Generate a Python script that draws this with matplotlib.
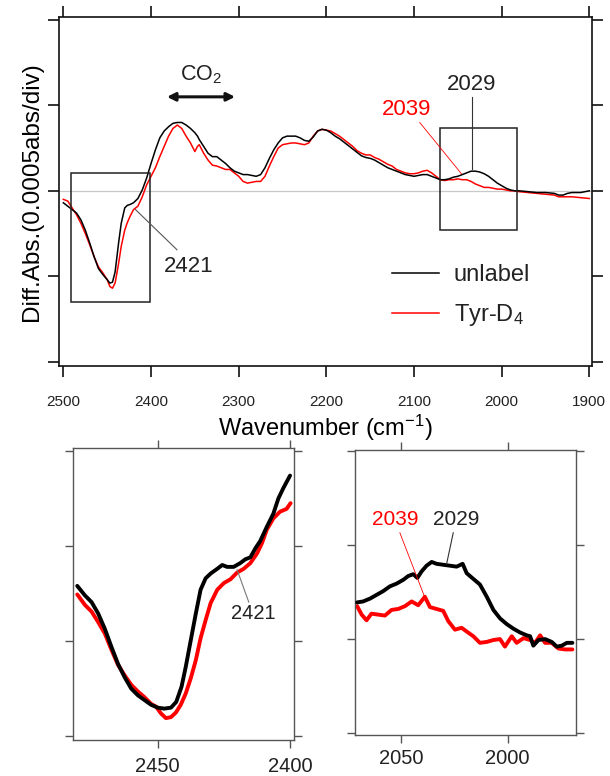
import numpy as np
import matplotlib
matplotlib.use("Agg")
import matplotlib.pyplot as plt

plt.rcParams['font.family'] = ['Liberation Sans', 'DejaVu Sans']
plt.rcParams['mathtext.fontset'] = 'custom'
plt.rcParams['mathtext.rm'] = 'Liberation Sans'
plt.rcParams['mathtext.it'] = 'Liberation Sans:italic'
plt.rcParams['text.color'] = '#222222'

# full spectrum (y in units of 0.0005 abs / div)
top_wn = [2500, 2495, 2490, 2485, 2480, 2475, 2470, 2465, 2460, 2455, 2450, 2447, 2444, 2441,
          2437, 2434, 2430, 2427, 2424, 2420, 2415, 2410, 2405, 2400, 2395, 2390, 2385, 2380,
          2375, 2370, 2365, 2360, 2355, 2350, 2347, 2345, 2340, 2335, 2330, 2325, 2320, 2315,
          2310, 2305, 2300, 2295, 2290, 2285, 2280, 2275, 2270, 2265, 2260, 2255, 2250, 2245,
          2240, 2235, 2230, 2225, 2220, 2215, 2210, 2205, 2200, 2195, 2190, 2185, 2180, 2175,
          2170, 2165, 2160, 2155, 2150, 2145, 2140, 2135, 2130, 2125, 2120, 2115, 2110, 2105,
          2100, 2095, 2090, 2085, 2080, 2075, 2070, 2065, 2060, 2055, 2050, 2045, 2040, 2035,
          2030, 2025, 2020, 2015, 2010, 2005, 2000, 1995, 1990, 1985, 1980, 1970, 1960, 1950,
          1940, 1935, 1930, 1925, 1920, 1910, 1900]
top_unlabel = [-0.14, -0.18, -0.22, -0.26, -0.34, -0.46, -0.61, -0.77, -0.91, -0.98, -1.04, -1.08,
               -1.07, -0.95, -0.61, -0.38, -0.20, -0.17, -0.16, -0.14, -0.09, 0.01, 0.15, 0.32,
               0.48, 0.62, 0.70, 0.75, 0.79, 0.80, 0.80, 0.77, 0.73, 0.68, 0.64, 0.60, 0.52, 0.44,
               0.40, 0.40, 0.36, 0.32, 0.27, 0.23, 0.21, 0.19, 0.19, 0.18, 0.17, 0.19, 0.27, 0.38,
               0.48, 0.56, 0.62, 0.64, 0.64, 0.64, 0.62, 0.59, 0.58, 0.63, 0.70, 0.72, 0.71, 0.68,
               0.64, 0.61, 0.57, 0.53, 0.49, 0.45, 0.41, 0.39, 0.38, 0.36, 0.33, 0.30, 0.27, 0.25,
               0.23, 0.21, 0.19, 0.18, 0.17, 0.18, 0.19, 0.19, 0.17, 0.15, 0.13, 0.13, 0.14, 0.16,
               0.17, 0.19, 0.21, 0.23, 0.23, 0.22, 0.20, 0.17, 0.13, 0.09, 0.06, 0.03, 0.01, 0.00,
               0.00, -0.01, -0.02, -0.02, -0.03, -0.05, -0.05, -0.03, -0.02, -0.02, 0.00]
top_tyr_d4 = [-0.10, -0.12, -0.20, -0.28, -0.38, -0.50, -0.63, -0.77, -0.89, -0.96, -1.04, -1.12,
              -1.14, -1.08, -0.85, -0.65, -0.46, -0.37, -0.30, -0.22, -0.18, -0.07, 0.07, 0.17,
              0.27, 0.40, 0.52, 0.64, 0.73, 0.77, 0.73, 0.64, 0.56, 0.46, 0.52, 0.54, 0.44, 0.36,
              0.30, 0.29, 0.27, 0.25, 0.25, 0.21, 0.17, 0.11, 0.09, 0.10, 0.11, 0.11, 0.17, 0.29,
              0.40, 0.50, 0.54, 0.55, 0.56, 0.56, 0.55, 0.54, 0.56, 0.64, 0.70, 0.72, 0.71, 0.70,
              0.67, 0.64, 0.60, 0.56, 0.52, 0.47, 0.44, 0.42, 0.42, 0.39, 0.37, 0.34, 0.31, 0.29,
              0.25, 0.23, 0.21, 0.20, 0.20, 0.21, 0.23, 0.24, 0.21, 0.17, 0.13, 0.12, 0.13, 0.13,
              0.14, 0.13, 0.13, 0.11, 0.08, 0.06, 0.04, 0.04, 0.03, 0.02, 0.02, 0.01, 0.00, 0.00,
              -0.01, -0.02, -0.03, -0.04, -0.05, -0.07, -0.07, -0.07, -0.07, -0.08, -0.09]

# expanded 2480-2400 region (arbitrary units, ticks at 0..3)
zl_wn = [2480.4, 2477.5, 2475, 2472.5, 2470, 2467.5, 2465, 2462.5, 2460, 2457.5, 2455, 2452.5,
         2450, 2447.5, 2445, 2443, 2441, 2439.4, 2437.5, 2435.6, 2433.8, 2431.9, 2430, 2427.5,
         2425.6, 2423.8, 2421.3, 2418.8, 2416.9, 2415, 2413, 2411.3, 2408.8, 2406.3, 2404.4,
         2402.5, 2400]
zl_unlabel = [1.58, 1.48, 1.41, 1.29, 1.13, 0.94, 0.76, 0.62, 0.50, 0.43, 0.38, 0.33, 0.30, 0.29,
              0.30, 0.36, 0.52, 0.73, 1.01, 1.29, 1.54, 1.66, 1.71, 1.76, 1.80, 1.78, 1.78, 1.82,
              1.86, 1.88, 1.98, 2.05, 2.20, 2.34, 2.50, 2.61, 2.74]
zl_tyr_wn = [2480.4, 2477.5, 2475, 2472.5, 2470, 2467.5, 2465, 2462.5, 2460, 2457.5, 2455, 2452.5,
             2450.6, 2448.8, 2446.9, 2445, 2443.1, 2441.3, 2439.4, 2437.5, 2435.6, 2433.8, 2431.9,
             2430, 2427.5, 2425, 2422.5, 2420, 2417.5, 2415, 2412.5, 2410.6, 2408.8, 2406.3,
             2403.8, 2401.3, 2399.8]
zl_tyr_d4 = [1.49, 1.38, 1.31, 1.20, 1.08, 0.91, 0.75, 0.64, 0.54, 0.47, 0.41, 0.34, 0.31, 0.24,
             0.19, 0.20, 0.25, 0.33, 0.45, 0.61, 0.80, 1.03, 1.22, 1.40, 1.54, 1.61, 1.65, 1.72,
             1.76, 1.82, 1.92, 2.03, 2.17, 2.29, 2.36, 2.39, 2.45]

# expanded 2070-1970 region (arbitrary units, ticks at 0..3)
zr_wn = [2070.5, 2067.7, 2064.5, 2061.4, 2058.3, 2055.2, 2052, 2048.9, 2046.6, 2044.2, 2042.3,
         2040.3, 2038, 2035.6, 2033.3, 2030.2, 2027, 2023.9, 2021.1, 2019.2, 2016.1, 2013,
         2009.8, 2006.7, 2003.6, 2000.5, 1997.3, 1994.2, 1991.1, 1989.5, 1988, 1985.6, 1982.5,
         1979.4, 1977, 1974.7, 1972.3, 1969.7]
zr_unlabel = [1.39, 1.40, 1.43, 1.47, 1.51, 1.56, 1.59, 1.63, 1.67, 1.69, 1.65, 1.72, 1.78, 1.82,
              1.80, 1.79, 1.78, 1.77, 1.80, 1.70, 1.64, 1.58, 1.45, 1.31, 1.22, 1.16, 1.11, 1.07,
              1.04, 1.03, 0.93, 0.99, 1.00, 0.97, 0.92, 0.93, 0.96, 0.96]
zr_tyr_wn = [2070.5, 2068.4, 2066.1, 2063.8, 2060.6, 2057.5, 2054.4, 2051.3, 2048.1, 2045, 2041.9,
             2038.8, 2036.4, 2033.3, 2030.2, 2027.8, 2024.7, 2021.6, 2019.2, 2016.1, 2013,
             2009.8, 2006.7, 2003.6, 2001.3, 1998.1, 1995.8, 1992.6, 1989.5, 1987.2, 1984.8,
             1982.5, 1979.4, 1976.3, 1973.2, 1969.7]
zr_tyr_d4 = [1.35, 1.26, 1.20, 1.27, 1.26, 1.25, 1.31, 1.32, 1.35, 1.40, 1.36, 1.45, 1.34, 1.32,
             1.30, 1.19, 1.10, 1.12, 1.08, 1.03, 0.96, 0.97, 0.99, 1.00, 0.92, 1.03, 0.96, 1.01,
             0.99, 0.96, 1.04, 0.96, 0.96, 0.90, 0.89, 0.89]

black = '#000000'
red = '#ff0000'

fig = plt.figure(figsize=(6.1, 7.76), dpi=100)


def frame(ax, lw, color, length):
    for s in ax.spines.values():
        s.set_linewidth(lw)
        s.set_color(color)
    ax.tick_params(which='both', direction='out', top=True, right=True, length=length,
                   width=lw, color=color, labelcolor='#222222')


# ---- top panel ----
ax = fig.add_axes([0.0967, 0.5284, 0.8738, 0.4503])
ax.axhline(0, color='#c8c8c8', lw=0.9, zorder=1)
ax.plot(top_wn, top_unlabel, color=black, lw=1.1, label='unlabel', zorder=3)
ax.plot(top_wn, top_tyr_d4, color=red, lw=1.1, label='Tyr-D$_\\mathrm{4}$', zorder=2)
ax.set_xlim(2505, 1897)
ax.set_ylim(-2.05, 2.04)
ax.set_xticks([2500, 2400, 2300, 2200, 2100, 2000, 1900])
ax.set_yticks([-2, -1, 0, 1, 2])
ax.set_yticklabels([])
frame(ax, 1.2, '#111111', 8)
ax.tick_params(axis='x', labelsize=11, pad=13)
ax.set_xlabel('Wavenumber (cm$^{\\mathrm{-1}}$)', fontsize=17, labelpad=3)
ax.set_ylabel('Diff.Abs.(0.0005abs/div)', fontsize=17.5, labelpad=0)

# boxes marking expanded regions
ax.add_patch(plt.Rectangle((2491, -1.30), 2401.7 - 2491, 1.505, fill=False, ec='#222222', lw=1.1, zorder=4))
ax.add_patch(plt.Rectangle((2070, -0.46), 1982 - 2070, 1.19, fill=False, ec='#222222', lw=1.1, zorder=4))

# CO2 arrow
ax.annotate('', xy=(2385, 1.10), xytext=(2301, 1.10),
            arrowprops=dict(arrowstyle='<|-|>', color='#111111', lw=2.2, mutation_scale=12))
ax.text(2343, 1.36, 'CO$_\\mathrm{2}$', fontsize=15.5, ha='center', va='center')

# peak labels
ax.plot([2417.7, 2370.4], [-0.22, -0.69], color='#555555', lw=0.8, zorder=4)
ax.text(2357, -0.89, '2421', fontsize=16, ha='center', va='center')
ax.plot([2034, 2034], [1.10, 0.25], color='#333333', lw=0.8, zorder=4)
ax.text(2034, 1.24, '2029', fontsize=16, ha='center', va='center')
ax.plot([2093.5, 2046], [0.80, 0.20], color=red, lw=0.6, zorder=4)
ax.text(2109, 0.95, '2039', fontsize=16, ha='center', va='center', color=red)

ax.legend(loc='upper left', bbox_to_anchor=(0.643, 0.660), bbox_transform=fig.transFigure,
          frameon=False, fontsize=17, handlelength=2.0, handletextpad=0.6,
          labelspacing=0.7, borderpad=0, borderaxespad=0)

# ---- bottom left ----
ax2 = fig.add_axes([0.1197, 0.0464, 0.3623, 0.3763])
ax2.plot(zl_wn, zl_unlabel, color=black, lw=2.8, solid_capstyle='round', zorder=3)
ax2.plot(zl_tyr_wn, zl_tyr_d4, color=red, lw=2.8, solid_capstyle='round', zorder=2)
ax2.set_xlim(2482, 2398.5)
ax2.set_ylim(-0.04, 3.03)
ax2.set_xticks([2450, 2400])
ax2.set_yticks([0, 1, 2, 3])
ax2.set_yticklabels([])
frame(ax2, 1.0, '#555555', 6)
ax2.tick_params(axis='x', labelsize=14.5, pad=6)
ax2.plot([2420, 2415.6], [1.75, 1.41], color='#777777', lw=0.8, zorder=4)
ax2.text(2413.9, 1.29, '2421', fontsize=14.5, ha='center', va='center')

# ---- bottom right ----
ax3 = fig.add_axes([0.5820, 0.0528, 0.3623, 0.3673])
ax3.plot(zr_wn, zr_unlabel, color=black, lw=2.8, solid_capstyle='round', zorder=3)
ax3.plot(zr_tyr_wn, zr_tyr_d4, color=red, lw=2.8, solid_capstyle='round', zorder=2)
ax3.set_xlim(2071.5, 1968)
ax3.set_ylim(-0.02, 3.01)
ax3.set_xticks([2050, 2000])
ax3.set_yticks([0, 1, 2, 3])
ax3.set_yticklabels([])
frame(ax3, 1.0, '#555555', 6)
ax3.tick_params(axis='x', labelsize=14.5, pad=4)
ax3.plot([2050.5, 2039.1], [2.13, 1.46], color=red, lw=0.6, zorder=4)
ax3.text(2052.8, 2.27, '2039', fontsize=15, ha='center', va='center', color=red)
ax3.plot([2025.5, 2028.6], [2.13, 1.80], color='#333333', lw=0.8, zorder=4)
ax3.text(2023.9, 2.27, '2029', fontsize=15, ha='center', va='center')

fig.savefig('out.png', dpi=100)
